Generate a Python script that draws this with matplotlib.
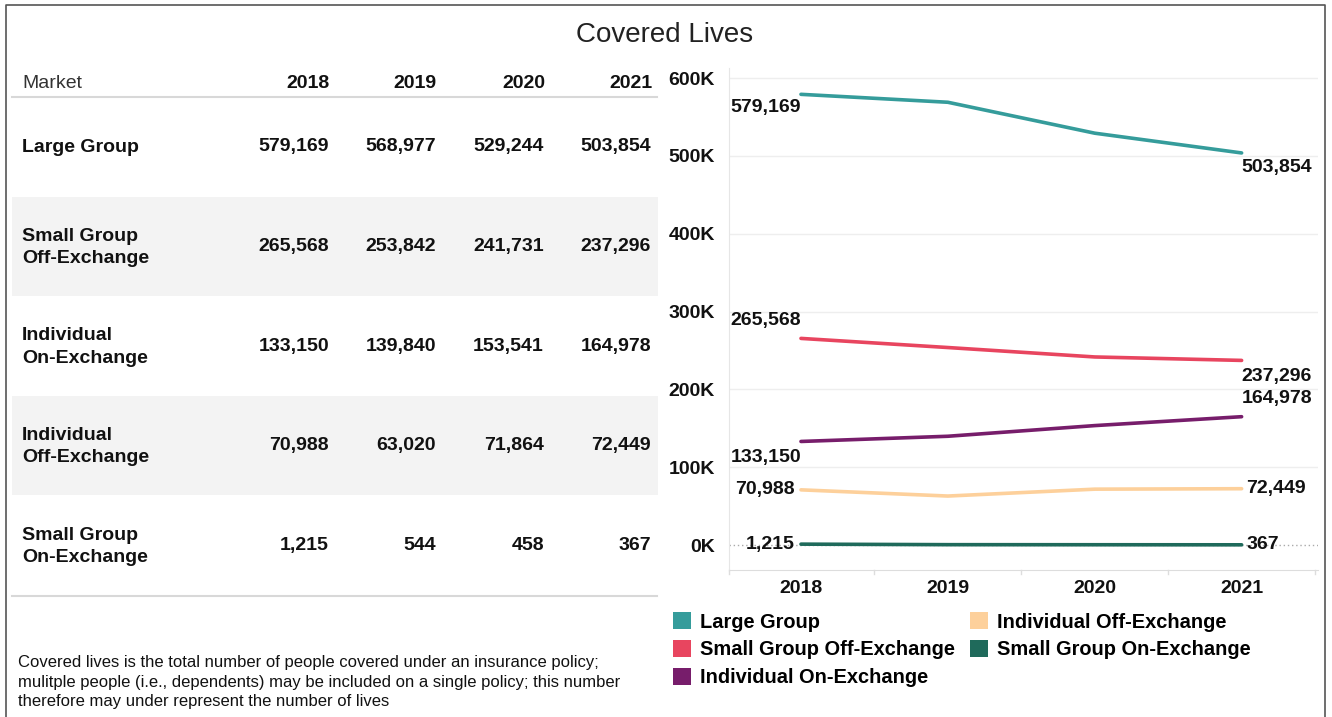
import numpy as np
import matplotlib
matplotlib.use("Agg")
import matplotlib.pyplot as plt
from matplotlib.patches import Patch, Rectangle
from matplotlib.ticker import FuncFormatter

plt.rcParams['font.family'] = ['Liberation Sans', 'DejaVu Sans']

# data
years = ["2018", "2019", "2020", "2021"]
markets = ["Large Group", "Small Group Off-Exchange", "Individual On-Exchange",
           "Individual Off-Exchange", "Small Group On-Exchange"]
row_labels = ["Large Group", "Small Group\nOff-Exchange", "Individual\nOn-Exchange",
              "Individual\nOff-Exchange", "Small Group\nOn-Exchange"]
large_group = [579169, 568977, 529244, 503854]
small_group_off = [265568, 253842, 241731, 237296]
individual_on = [133150, 139840, 153541, 164978]
individual_off = [70988, 63020, 71864, 72449]
small_group_on = [1215, 544, 458, 367]
series = [large_group, small_group_off, individual_on, individual_off, small_group_on]

colors = ["#359c9b", "#e8455f", "#771d6b", "#fdd09b", "#1f6a5b"]
# label placement (start, end): (ha, dx, dy) in pixels
label_pos = [
    (("right", 0, -13), ("left", 0, -15)),
    (("right", 0, 18), ("left", 0, -16)),
    (("right", 0, -16), ("left", 0, 18)),
    (("right", -6, 0), ("left", 5, 0)),
    (("right", -6, 0), ("left", 5, 0)),
]

W, H = 1332, 717
fig = plt.figure(figsize=(W / 100, H / 100), dpi=100)

# background canvas in pixel coords for the table part
bg = fig.add_axes([0, 0, 1, 1], zorder=0)
bg.set_xlim(0, W)
bg.set_ylim(H, 0)
bg.axis("off")

# outer frame
bg.plot([6, 6, 1325, 1325], [H, 5, 5, H], color="#555555", lw=1.2)

fig.text(665 / W, 1 - 35 / H, "Covered Lives", ha="center", va="center", fontsize=20, color="#222222")

# table
row_top = 97
row_h = 99.6
col_x = [330, 437, 545, 652]
bg.text(22, 83, "Market", ha="left", va="center", fontsize=14, color="#333333")
for x, yr in zip(col_x, years):
    bg.text(x, 83, yr, ha="right", va="center", fontsize=14, fontweight="bold", color="#111111")
bg.plot([12, 657], [row_top, row_top], color="#d8d8d8", lw=1.5)

for i, (lab, vals) in enumerate(zip(row_labels, series)):
    y0 = row_top + i * row_h
    if i % 2 == 1:
        bg.add_patch(Rectangle((12, y0), 646, row_h, facecolor="#f3f3f3", edgecolor="none"))
    yc = y0 + row_h / 2
    bg.text(22, yc + 1, lab, ha="left", va="center", fontsize=14, fontweight="bold",
            color="#111111", linespacing=1.4)
    for x, v in zip(col_x, vals):
        bg.text(x - 1, yc, f"{v:,}", ha="right", va="center", fontsize=14,
                fontweight="bold", color="#111111")
bottom_y = row_top + 5 * row_h + 1
bg.plot([12, 657], [bottom_y, bottom_y], color="#d8d8d8", lw=1.5)

fig.text(18 / W, 1 - 682 / H,
         "Covered lives is the total number of people covered under an insurance policy;\n"
         "mulitple people (i.e., dependents) may be included on a single policy; this number\n"
         "therefore may under represent the number of lives",
         ha="left", va="center", fontsize=12, color="#111111", linespacing=1.35)

# line chart
ax = fig.add_axes([729 / W, 1 - 570 / H, (1318 - 729) / W, (570 - 68) / H], zorder=1)
ax.patch.set_alpha(0)
x = np.arange(len(years))
for vals, c, name, (lp0, lp1) in zip(series, colors, markets, label_pos):
    ax.plot(x, vals, color=c, lw=2.6, solid_capstyle="round", zorder=3)
    for idx, (ha, dx, dy) in ((0, lp0), (len(x) - 1, lp1)):
        ax.annotate(f"{vals[idx]:,}", (x[idx], vals[idx]), xytext=(dx, dy),
                    textcoords="offset pixels", ha=ha, va="center",
                    fontsize=14, fontweight="bold", color="#111111", zorder=4)

ax.set_xlim(-0.49, 3.52)
ax.set_ylim(-32000, 613000)
ax.set_yticks(np.arange(0, 600001, 100000))
ax.yaxis.set_major_formatter(FuncFormatter(lambda v, p: f"{v / 1000:.0f}K"))
ax.set_xticks(x)
ax.set_xticklabels(years)
for lab in ax.get_xticklabels() + ax.get_yticklabels():
    lab.set_fontweight("bold")
    lab.set_fontsize(14)
    lab.set_color("#111111")
ax.tick_params(axis="both", length=0)
ax.tick_params(axis="y", pad=10)
ax.tick_params(axis="x", pad=7)

for yv in np.arange(100000, 600001, 100000):
    ax.axhline(yv, color="#eeeeee", lw=1, zorder=1)
ax.axhline(0, color="#aaaaaa", lw=1, ls=(0, (1, 2)), zorder=1)

for s in ["top", "right"]:
    ax.spines[s].set_visible(False)
ax.spines["left"].set_color("#e6e6e6")
ax.spines["bottom"].set_color("#dddddd")
# small separators under the x axis between categories
for xb in [-0.49, 0.5, 1.5, 2.5, 3.5]:
    ax.plot([xb, xb], [-32000, -37000], color="#dddddd", lw=1, clip_on=False)

handles = [Patch(facecolor=c, edgecolor="none") for c in colors]
leg = fig.legend(handles, markets, loc="upper left", bbox_to_anchor=(673 / W, 1 - 612 / H),
                 ncol=2, frameon=False, handlelength=0.9, handleheight=0.95,
                 handletextpad=0.45, columnspacing=0.75, labelspacing=0.42,
                 borderaxespad=0, borderpad=0,
                 prop={"family": "Liberation Sans", "weight": "bold", "size": 14.4})

fig.savefig("out.png", dpi=100)
